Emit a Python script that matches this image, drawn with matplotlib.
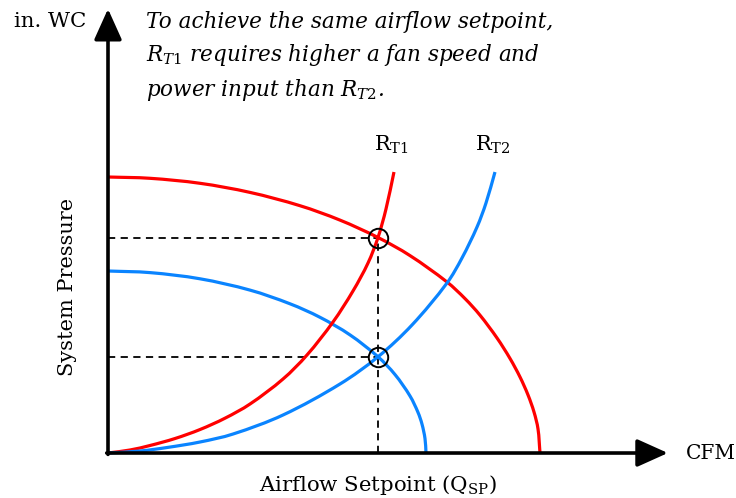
import numpy as np
import matplotlib.pyplot as plt
from matplotlib.path import Path
from matplotlib.patches import PathPatch

plt.rcParams["font.family"] = ["DejaVu Serif"]
plt.rcParams["mathtext.fontset"] = "custom"
plt.rcParams["mathtext.rm"] = "DejaVu Serif"
plt.rcParams["mathtext.it"] = "DejaVu Serif:italic"

RED = "#ff0000"
BLUE = "#0a84ff"

# fan curves (airflow, pressure), units: red fan max = 100
fan_hi_x = [0, 9.72, 21.30, 32.87, 44.44, 53.70, 62.50, 69.91, 78.47, 82.64,
            86.11, 90.05, 93.06, 95.37, 97.22, 98.61, 99.54, 100]
fan_hi_y = [100, 99.53, 97.72, 94.42, 89.60, 84.38, 78.08, 71.52, 61.96, 55.94,
            49.93, 41.67, 34.24, 27.54, 21.05, 14.86, 8.70, 0]

fan_lo_x = [0, 9.72, 21.30, 32.87, 42.13, 49.07, 56.02, 62.50, 66.44, 69.91,
            71.76, 72.69, 73.38, 73.61]
fan_lo_y = [65.94, 65.36, 63.12, 59.02, 54.06, 49.17, 42.79, 34.86, 28.41, 20.65,
            14.71, 10.43, 5.22, 0]

# system curves
rt1_x = [0, 5.09, 9.72, 15.51, 21.30, 27.08, 32.87, 40.51, 46.06, 52.08,
         56.71, 60.19, 62.50, 64.35, 66.20]
rt1_y = [0, 1.09, 2.72, 5.25, 8.51, 12.61, 17.75, 26.81, 35.51, 47.46,
         58.70, 68.84, 78.08, 88.41, 101.81]

rt2_x = [0, 7.41, 13.66, 21.30, 28.94, 40.51, 53.70, 62.50, 70.37, 78.47,
         81.94, 85.42, 87.50, 89.58]
rt2_y = [0, 0.72, 1.99, 3.99, 6.88, 13.77, 25.0, 34.86, 46.38, 61.59,
         70.65, 81.88, 90.58, 101.81]

# operating points at the airflow setpoint
q_sp = 62.5
p_rt1 = 78.08
p_rt2 = 34.86


def smooth_curve(ax, xs, ys, color):
    # cubic bezier through the read points, tangents taken in screen space
    pts = ax.transData.transform(np.column_stack([xs, ys]))
    n = len(pts)
    tang = []
    for i in range(n):
        d = pts[min(i + 1, n - 1)] - pts[max(i - 1, 0)]
        tang.append(d / np.hypot(*d))
    verts = [pts[0]]
    codes = [Path.MOVETO]
    for i in range(n - 1):
        seg = np.hypot(*(pts[i + 1] - pts[i])) / 3
        verts += [pts[i] + tang[i] * seg, pts[i + 1] - tang[i + 1] * seg, pts[i + 1]]
        codes += [Path.CURVE4] * 3
    verts = ax.transData.inverted().transform(np.array(verts))
    patch = PathPatch(Path(verts, codes), facecolor="none", edgecolor=color,
                      lw=2.3, zorder=2, capstyle="butt")
    ax.add_patch(patch)


fig = plt.figure(figsize=(7.36, 4.98), dpi=100)
ax = fig.add_axes([0, 0, 1, 1])
ax.set_xlim(-25, 145.37)
ax.set_ylim(-16.3, 164.13)
ax.set_axis_off()

# dashed guides
dash = dict(color="black", lw=1.3, linestyle=(0, (4, 3)), zorder=1)
ax.plot([0, q_sp], [p_rt1, p_rt1], **dash)
ax.plot([0, q_sp], [p_rt2, p_rt2], **dash)
ax.plot([q_sp, q_sp], [0, p_rt1], **dash)

# curves
smooth_curve(ax, fan_hi_x, fan_hi_y, RED)
smooth_curve(ax, fan_lo_x, fan_lo_y, BLUE)
smooth_curve(ax, rt1_x, rt1_y, RED)
smooth_curve(ax, rt2_x, rt2_y, BLUE)

# circles at intersections
ax.plot([q_sp, q_sp], [p_rt1, p_rt2], "o", ms=14, mfc="none", mec="black", mew=1.4, zorder=4)

# axes with arrows
arrow = dict(arrowstyle="-|>,head_length=1.0,head_width=0.45", mutation_scale=19,
             lw=2.6, color="black", shrinkA=0, shrinkB=0)
ax.annotate("", xy=(0, 160.9), xytext=(0, -0.5), arrowprops=arrow, zorder=5)
ax.annotate("", xy=(129.6, 0), xytext=(-0.3, 0), arrowprops=arrow, zorder=5)

# labels
ax.text(-4.9, 156.2, "in. WC", ha="right", va="center", fontsize=15.3)
ax.text(133.8, 0, "CFM", ha="left", va="center", fontsize=14.5)
ax.text(-9.3, 60.1, "System Pressure", rotation=90, ha="center", va="center", fontsize=15)
ax.text(q_sp, -11.6, r"Airflow Setpoint ($\mathrm{Q_{SP}}$)", ha="center", va="center", fontsize=15.3)
ax.text(65.7, 111.6, r"$\mathrm{R_{T1}}$", ha="center", va="center", fontsize=15)
ax.text(89.1, 111.6, r"$\mathrm{R_{T2}}$", ha="center", va="center", fontsize=15)

note = dict(ha="left", va="center", fontsize=15.5, style="italic")
ax.text(8.8, 156.2, "To achieve the same airflow setpoint,", **note)
ax.text(8.8, 144.2, r"$\mathit{R_{T1}}$ requires higher a fan speed and", **note)
ax.text(8.8, 131.5, r"power input than $\mathit{R_{T2}}$.", **note)

fig.savefig("out.png", dpi=100)
